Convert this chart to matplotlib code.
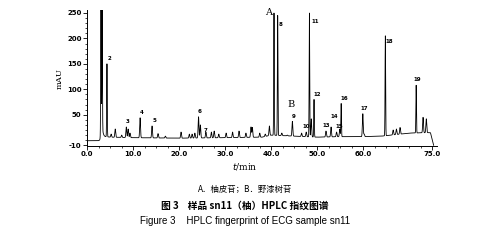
import numpy as np
import matplotlib
matplotlib.use("Agg")
import matplotlib.pyplot as plt
from matplotlib.ticker import MultipleLocator, FixedLocator

plt.rcParams['font.family'] = ['DejaVu Sans']

# Retention time (min), apex height (mAU) and peak number
peak_times = [3.0, 3.25, 4.3, 5.2, 6.1, 7.5, 8.5, 8.9, 9.3, 11.5, 14.1, 15.4, 17.0,
              20.4, 22.2, 22.8, 23.4, 24.2, 24.6, 25.8, 27.0, 27.6, 28.6, 30.2,
              31.6, 33.0, 34.5, 35.6, 35.9, 37.5, 38.7, 39.6, 40.6, 41.4, 42.3,
              43.5, 44.6, 46.6, 47.6, 48.3, 48.7, 49.3, 51.9, 53.0, 54.2, 54.9,
              55.2, 59.9, 60.2, 64.8, 66.5, 67.2, 68.0, 71.5, 73.0, 73.7]
peak_heights = [252, 245, 150, 12, 22, 10, 26, 22, 14, 44, 28, 13, 8,
                16, 12, 12, 14, 46, 30, 16, 16, 18, 12, 14,
                16, 18, 14, 26, 25, 14, 12, 28, 250, 245, 14,
                10, 37, 14, 16, 250, 42, 80, 18, 26, 16, 22,
                72, 52, 12, 205, 20, 22, 25, 108, 45, 42]
peak_numbers = ['', '', '2', '', '', '', '3', '', '', '4', '5', '', '',
                '', '', '', '', '6', '7', '', '', '', '', '',
                '', '', '', '', '', '', '', '', '', '8', '',
                '', '9', '', '10', '11', '', '12', '13', '14', '15', '',
                '16', '17', '', '18', '', '', '', '19', '', '']

# Baseline drift of the detector signal
base_t = [0, 2.75, 3.3, 5, 10, 20, 30, 38, 40, 45, 50, 55, 60, 64, 66, 70, 74.6, 75.3]
base_v = [-1, -1, 8, 6, 5, 4, 5, 6, 10, 8, 6, 7, 7, 8, 10, 14, 15, -10]

# Broad solvent-front hump under the first peaks
hump_time, hump_height = 3.2, 12

x_ticks = [0, 10, 20, 30, 40, 50, 60, 75]
x_labels = ['0.0', '10.0', '20.0', '30.0', '40.0', '50.0', '60.0', '75.0']
y_ticks = [-10, 50, 100, 150, 200, 250]
y_labels = ['-10', '50', '100', '150', '200', '250']

t = np.linspace(0, 75.3, 12000)
signal = np.interp(t, base_t, base_v)
signal = signal + hump_height * np.exp(-0.5 * ((t - hump_time) / 0.25) ** 2)
for pt, ph in zip(peak_times, peak_heights):
    amp = ph - np.interp(pt, base_t, base_v)
    w = 0.06 if ph > 60 else 0.09
    signal = signal + amp * np.exp(-0.5 * ((t - pt) / w) ** 2)

fig = plt.figure(figsize=(5.01, 2.48), dpi=100)
ax = fig.add_axes([0.174, 0.41, 0.698, 0.548])
ax.plot(t, signal, color='black', lw=0.6)
ax.set_xlim(0, 76)
ax.set_ylim(-12, 255)

for side in ('top', 'right'):
    ax.spines[side].set_visible(False)
for side in ('left', 'bottom'):
    ax.spines[side].set_linewidth(0.7)

ax.xaxis.set_major_locator(FixedLocator(x_ticks))
ax.set_xticklabels(x_labels)
ax.xaxis.set_minor_locator(MultipleLocator(2.5))
ax.yaxis.set_major_locator(FixedLocator(y_ticks))
ax.set_yticklabels(y_labels)
ax.yaxis.set_minor_locator(MultipleLocator(10))
ax.tick_params(axis='both', which='major', length=3, width=0.6, labelsize=5, pad=1)
ax.tick_params(axis='x', which='major', pad=0.5)
ax.tick_params(axis='both', which='minor', length=1.5, width=0.5)
for lab in ax.get_xticklabels() + ax.get_yticklabels():
    lab.set_fontweight('bold')

ax.set_ylabel('mAU', family='DejaVu Serif', fontsize=6, labelpad=2)

# Peak numbers
label_offsets = {'2': (1.5, 2), '3': (1, 2), '4': (1, 2), '5': (1.5, 2), '6': (1, 2),
                 '7': (4, -6), '8': (2, -8), '9': (1, 2), '10': (0, 2), '11': (4, -8),
                 '12': (2, 2), '13': (0, 2), '14': (2, 6), '15': (2, 2), '16': (2, 2),
                 '17': (1, 2), '18': (3, -6), '19': (1, 2)}
for pt, ph, num in zip(peak_times, peak_heights, peak_numbers):
    if num:
        dx, dy = label_offsets[num]
        ax.annotate(num, (pt, ph), xytext=(dx, dy), textcoords='offset points',
                    ha='center', va='bottom', fontsize=4, fontweight='bold')

ax.annotate('A', (40.6, 250), xytext=(-4, 0), textcoords='offset points',
            ha='center', va='center', fontsize=7, family='DejaVu Serif')
ax.annotate('B', (44.6, 37), xytext=(-1, 9), textcoords='offset points',
            ha='center', va='bottom', fontsize=7, family='DejaVu Serif')

fig.text(0.489, 0.327, '$t$/min', ha='center', va='center', fontsize=6.5,
         family='DejaVu Serif')
cjk = ['Noto Sans CJK SC', 'DejaVu Sans']
fig.text(0.489, 0.234, 'A．柚皮苷；B．野漆树苷', ha='center', va='center',
         fontsize=6, family=cjk)
fig.text(0.489, 0.17, '图 3    样品 sn11（柚）HPLC 指纹图谱', ha='center', va='center',
         fontsize=7, family=cjk, fontweight='bold')
fig.text(0.489, 0.108, 'Figure 3    HPLC fingerprint of ECG sample sn11', ha='center',
         va='center', fontsize=7, family='Liberation Sans')

fig.savefig('out.png', dpi=100)
